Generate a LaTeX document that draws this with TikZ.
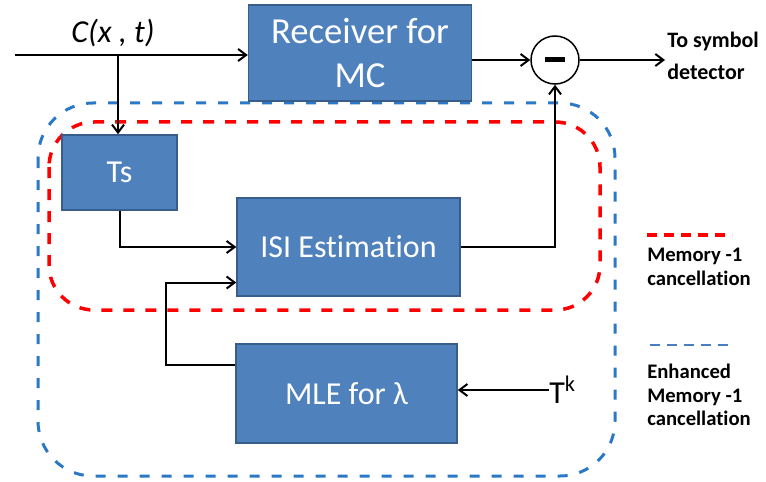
\documentclass[tikz,border=0pt]{standalone}
\usepackage{fontspec}
\setmainfont{Carlito}[Ligatures={NoCommon,NoContextual}]
\usetikzlibrary{arrows.meta,calc}
\newdimen\pxu \pxu=0.75pt
\definecolor{boxfill}{HTML}{4F81BD}
\definecolor{boxline}{HTML}{385D8A}
\definecolor{dashred}{HTML}{FF0000}
\definecolor{dashblue}{HTML}{2A78C6}
\definecolor{legblue}{HTML}{4A7EC4}
\tikzset{
  blk/.style={draw=boxline, line width=1.5\pxu, fill=boxfill, text=white, inner sep=0pt,
    align=center, font=\fontsize{24}{30}\selectfont},
  conn/.style={line width=2\pxu, draw=black, -{Straight Barb[length=6pt,width=9pt]}},
  redbox/.style={draw=dashred, line width=3.5\pxu, dash pattern=on 11\pxu off 11\pxu, rounded corners=45\pxu},
  bluebox/.style={draw=dashblue, line width=3\pxu, dash pattern=on 10\pxu off 12\pxu, rounded corners=55\pxu},
  lbl/.style={font=\bfseries\fontsize{15.5}{17.5}\selectfont, align=left, inner sep=0pt},
}
\begin{document}
\begin{tikzpicture}[x=\pxu, y=-\pxu]
\useasboundingbox (0,0) rectangle (766,481);
% dashed regions
\draw[bluebox] (38,103) rectangle (615,476);
\draw[redbox] (49,122) rectangle (600,310);
% blocks
\node[blk, minimum width=223\pxu, minimum height=96\pxu, font=\fontsize{27.5}{33}\selectfont] (rec) at (360,53) {Receiver for\\MC};
\node[blk, minimum width=115\pxu, minimum height=75\pxu] (ts) at (119.5,172.5) {Ts};
\node[blk, minimum width=223\pxu, minimum height=98\pxu] (isi) at (348.5,247) {ISI Estimation};
\node[blk, minimum width=221\pxu, minimum height=99\pxu] (mle) at (346.5,393.5) {MLE for λ};
% subtractor
\node[draw=black, line width=1.5\pxu, circle, minimum size=48\pxu, inner sep=0pt] (sub) at (555,60) {};
\fill[black] ($(sub.center)+(-10,-2.5)$) rectangle ($(sub.center)+(10,2.5)$);
% labels
\node[font=\itshape\fontsize{24}{30}\selectfont, inner sep=0pt] (cxt) at (113,33) {C(x , t)};
\node[font=\fontsize{24}{30}\selectfont, inner sep=0pt, anchor=west] (tk) at (549,390) {T\textsuperscript{k}};
\node[lbl, font=\bfseries\fontsize{16.5}{23.5}\selectfont, anchor=north west] (dest) at (667,32) {To symbol\\detector};
% connectors
\coordinate (in) at (15,55);
\coordinate (br) at (118,55);
\coordinate (out) at (665,60);
\draw[conn] (in) -- (rec.west |- in);
\draw[conn] (br) -- (br |- ts.north);
\draw[conn] (ts.south) |- (isi.west);
\draw[conn] ($(mle.north west)!0.22!(mle.south west)$) -- ++(-69,0) |- ($(isi.north west)!0.857!(isi.south west)$);
\draw[conn] (tk.west) -- (mle.east |- tk.west);
\draw[conn] (isi.east) -| (sub.south);
\draw[conn] (rec.east |- sub.west) -- (sub.west);
\draw[conn] (sub.east) -- (out);
% legend
\coordinate (lr1) at (647,235); \coordinate (lr2) at (732,235);
\draw[draw=dashred, line width=3.5\pxu, dash pattern=on 10\pxu off 7\pxu] (lr1) -- (lr2);
\node[lbl, anchor=north west] (lgr) at (647,248) {Memory -1\\cancellation};
\coordinate (lb1) at (650,345); \coordinate (lb2) at (735,345);
\draw[draw=legblue, line width=2.5\pxu, dash pattern=on 10\pxu off 7\pxu] (lb1) -- (lb2);
\node[lbl, anchor=north west] (lgb) at (647,364) {Enhanced\\Memory -1\\cancellation};
\end{tikzpicture}
\end{document}
